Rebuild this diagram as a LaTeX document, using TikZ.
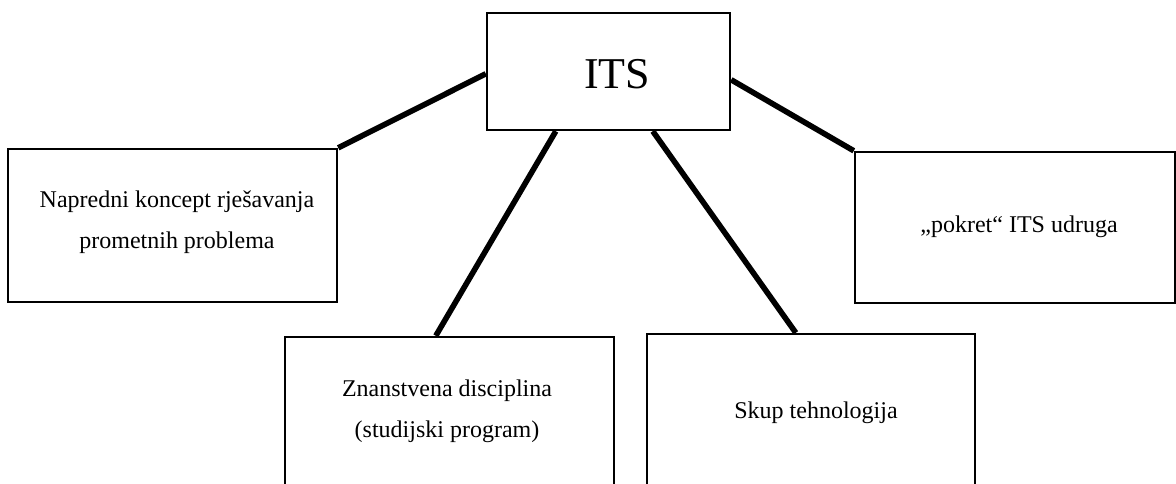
\documentclass[tikz,border=0pt]{standalone}
\usepackage{fontspec}
\setmainfont{Liberation Serif}
\usetikzlibrary{calc}
\begin{document}
\begin{tikzpicture}[x=1pt,y=-1pt,
  box/.style={draw, line width=2.4pt, rectangle, inner sep=0pt},
  conn/.style={line width=5.6pt},
  lbl/.style={font=\fontsize{24}{41}\selectfont, align=center, inner sep=0pt},
  big/.style={font=\fontsize{44}{50}\selectfont, inner sep=0pt}]
\useasboundingbox (0,0) rectangle (1176,484);
\clip (0,0) rectangle (1176,484);
% boxes
\node[box, minimum width=243pt, minimum height=117pt] (its) at (608.5,71.5) {};
\node[box, minimum width=329pt, minimum height=153pt] (lbox) at (172.5,225.5) {};
\node[box, minimum width=320pt, minimum height=151pt] (rbox) at (1015,227.5) {};
\node[box, minimum width=329pt, minimum height=163pt] (blbox) at (449.5,418.5) {};
\node[box, minimum width=328pt, minimum height=166pt] (brbox) at (811,417) {};
% texts
\node[big] (itst) at (617,74) {ITS};
\node[lbl] (lt) at (177,222) {Napredni koncept rješavanja\\prometnih problema};
\node[lbl, anchor=base] (rt) at (1019,232) {„pokret“ ITS udruga};
\node[lbl] (blt) at (447,411) {Znanstvena disciplina\\(studijski program)};
\node[lbl, anchor=base] (brt) at (816,418) {Skup tehnologija};
% connectors
\draw[conn] ($(its.north west)+(0,62)$) -- (lbox.north east);
\draw[conn] ($(its.north east)+(0,68)$) -- (rbox.north west);
\draw[conn] ($(its.south west)+(70,0)$) -- ($(blbox.north west)+(152,0)$);
\draw[conn] ($(its.south west)+(167,0)$) -- ($(brbox.north west)+(150,0)$);
\end{tikzpicture}
\end{document}
